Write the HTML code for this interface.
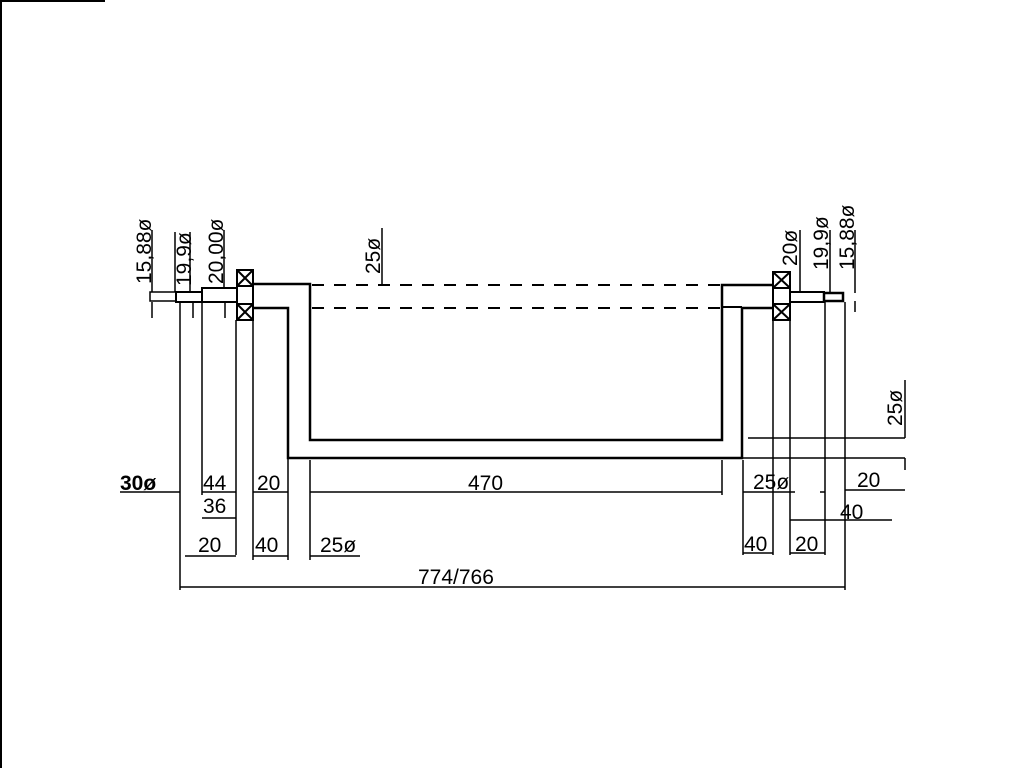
<!DOCTYPE html>
<html><head><style>
html,body{margin:0;padding:0;background:#fff;}
svg{display:block}
text{font-family:"Liberation Sans",sans-serif;font-size:21px;fill:#000}
</style></head><body>
<svg width="1024" height="768" viewBox="0 0 1024 768" xmlns="http://www.w3.org/2000/svg">
<g stroke="#000" fill="none" stroke-width="2">
<line x1="0" y1="1" x2="105" y2="1"/>
<line x1="1" y1="0" x2="1" y2="768"/>
<rect x="150" y="292" width="26" height="9" stroke-width="1.5"/>
<rect x="176" y="292" width="26" height="10"/>
<rect x="202" y="288" width="35" height="14"/>
<rect x="237" y="270" width="16" height="50"/>
<rect x="237" y="270" width="16" height="16"/><path d="M238 271L252 285M252 271L238 285"/>
<rect x="237" y="304" width="16" height="16"/><path d="M238 305L252 319M252 305L238 319"/>
<path d="M253 284H310V440H722V285H773" stroke-width="2.5"/>
<path d="M253 308H288V458H742V308H773" stroke-width="2.5"/>
<path d="M722 307H742" />
<path d="M312 285H720M312 308H720" stroke-dasharray="12,10"/>
<rect x="773" y="272" width="17" height="48"/>
<rect x="773" y="272" width="17" height="16"/><path d="M774 273L789 287M789 273L774 287"/>
<rect x="773" y="304" width="17" height="16"/><path d="M774 305L789 319M789 305L774 319"/>
<rect x="790" y="292" width="34" height="10"/>
<rect x="824" y="293" width="19" height="8" stroke-width="2.5"/>
<g stroke-width="1.5">
<line x1="180" y1="302" x2="180" y2="590"/>
<line x1="202" y1="302" x2="202" y2="495"/>
<line x1="236" y1="320" x2="236" y2="555"/>
<line x1="253" y1="320" x2="253" y2="560"/>
<line x1="288" y1="458" x2="288" y2="560"/>
<line x1="310" y1="460" x2="310" y2="560"/>
<line x1="152" y1="230" x2="152" y2="292"/><line x1="152" y1="302" x2="152" y2="318"/>
<line x1="175" y1="232" x2="175" y2="292"/><line x1="190" y1="232" x2="190" y2="292"/>
<line x1="193" y1="302" x2="193" y2="318"/>
<line x1="224" y1="230" x2="224" y2="288"/><line x1="225" y1="302" x2="225" y2="318"/>
<line x1="382" y1="228" x2="382" y2="285"/>
<line x1="120" y1="492" x2="180" y2="492"/>
<line x1="202" y1="492" x2="236" y2="492"/>
<line x1="253" y1="492" x2="288" y2="492"/>
<line x1="310" y1="492" x2="722" y2="492"/>
<line x1="202" y1="518" x2="236" y2="518"/>
<line x1="185" y1="556" x2="236" y2="556"/>
<line x1="253" y1="556" x2="288" y2="556"/>
<line x1="310" y1="556" x2="360" y2="556"/>
<line x1="180" y1="587" x2="845" y2="587"/>
<line x1="722" y1="460" x2="722" y2="495"/>
<line x1="743" y1="460" x2="743" y2="555"/>
<line x1="773" y1="320" x2="773" y2="555"/>
<line x1="790" y1="320" x2="790" y2="555"/>
<line x1="825" y1="302" x2="825" y2="555"/>
<line x1="845" y1="302" x2="845" y2="590"/>
<line x1="800" y1="230" x2="800" y2="292"/>
<line x1="830" y1="230" x2="830" y2="293"/>
<line x1="855" y1="230" x2="855" y2="293"/><line x1="855" y1="301" x2="855" y2="312"/>
<line x1="748" y1="438" x2="905" y2="438"/>
<line x1="742" y1="458" x2="905" y2="458"/>
<line x1="905" y1="380" x2="905" y2="438"/>
<line x1="905" y1="458" x2="905" y2="470"/>
<line x1="743" y1="492" x2="795" y2="492"/>
<line x1="820" y1="492" x2="825" y2="492"/>
<line x1="845" y1="490" x2="905" y2="490"/>
<line x1="790" y1="520" x2="892" y2="520"/>
<line x1="743" y1="553" x2="773" y2="553"/>
<line x1="790" y1="553" x2="825" y2="553"/>
</g>
</g>
<text x="468" y="490" font-size="23">470</text>
<text x="418" y="584" font-size="23">774/766</text>
<text x="203" y="490">44</text>
<text x="257" y="490">20</text>
<text x="203" y="513">36</text>
<text x="198" y="552">20</text>
<text x="255" y="552">40</text>
<text x="320" y="552">25ø</text>
<text x="120" y="490" font-weight="bold">30ø</text>
<text x="753" y="489">25ø</text>
<text x="857" y="487">20</text>
<text x="840" y="519">40</text>
<text x="744" y="551">40</text>
<text x="795" y="551">20</text>
<text transform="translate(151,284) rotate(-90)">15,88ø</text>
<text transform="translate(191,286) rotate(-90)">19,9ø</text>
<text transform="translate(223,284) rotate(-90)">20,00ø</text>
<text transform="translate(380,274) rotate(-90)">25ø</text>
<text transform="translate(797,266) rotate(-90)">20ø</text>
<text transform="translate(828,270) rotate(-90)">19,9ø</text>
<text transform="translate(854,270) rotate(-90)">15,88ø</text>
<text transform="translate(902,426) rotate(-90)">25ø</text>
</svg>
</body></html>
